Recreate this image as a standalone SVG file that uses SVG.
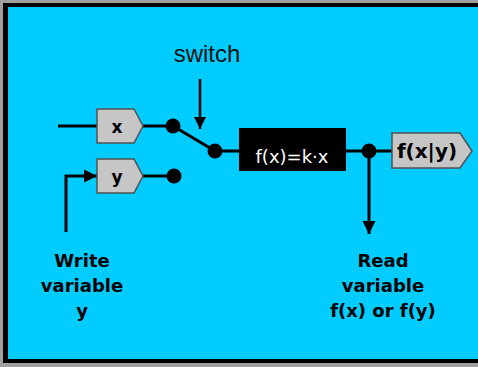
<svg xmlns="http://www.w3.org/2000/svg" width="478" height="367" viewBox="0 0 478 367">
<style>
.ln{stroke:#000;stroke-width:3;fill:none}
.tag{fill:#C6C6C6;stroke:#505050;stroke-width:1.5}
.dot{fill:#000}
.lbl{font-family:"DejaVu Sans",Verdana,sans-serif;font-weight:bold;font-size:18px;fill:#000;text-anchor:middle}
.tg{font-family:"DejaVu Sans",Verdana,sans-serif;font-weight:bold;fill:#000;text-anchor:middle}
</style>
<defs>
<marker id="ah" viewBox="0 0 10 10" refX="10" refY="5" markerWidth="4.4" markerHeight="4.4" markerUnits="strokeWidth" orient="auto">
<path d="M0,0 L10,5 L0,10 Z" fill="#000"/>
</marker>
<marker id="ah2" viewBox="0 0 10 10" refX="10" refY="5" markerWidth="5" markerHeight="5" markerUnits="strokeWidth" orient="auto">
<path d="M0,0 L10,5 L0,10 Z" fill="#000"/>
</marker>
</defs>
<rect x="0" y="0" width="478" height="367" fill="#A0A0A0"/>
<rect x="3" y="3" width="480" height="360" fill="#000"/>
<rect x="8" y="7" width="475" height="352" fill="#00CCFF"/>

<g id="connectors">
<line class="ln" x1="58" y1="126" x2="97" y2="126"/>
<line class="ln" x1="143" y1="126" x2="173" y2="126"/>
<line class="ln" x1="173" y1="126" x2="215" y2="151"/>
<line class="ln" x1="215" y1="151" x2="240" y2="151"/>
<line class="ln" x1="143" y1="176" x2="174" y2="176"/>
<polyline class="ln" points="66,232 66,176 97,176" marker-end="url(#ah)"/>
<line class="ln" x1="346" y1="151" x2="392" y2="151"/>
<line class="ln" x1="369" y1="151" x2="369" y2="234" marker-end="url(#ah)"/>
<line style="stroke:#000;stroke-width:2.5" x1="200" y1="79" x2="200" y2="129" marker-end="url(#ah2)"/>
</g>

<g id="switch-label">
<text x="207" y="62" style="font-family:'Liberation Sans',Arial,sans-serif;font-size:24px;fill:#111;text-anchor:middle">switch</text>
</g>

<g id="node-x">
<path class="tag" d="M97,109 H134 L143,126 L134,143 H97 Z"/>
<text class="tg" x="117" y="133" font-size="17">x</text>
</g>

<g id="node-y">
<path class="tag" d="M97,159 H134 L143,176 L134,193 H97 Z"/>
<text class="tg" x="117" y="183" font-size="17">y</text>
</g>

<g id="dots">
<circle class="dot" cx="173" cy="126" r="7.5"/>
<circle class="dot" cx="215" cy="151" r="7.5"/>
<circle class="dot" cx="174" cy="176" r="7.5"/>
<circle class="dot" cx="369" cy="151" r="7.5"/>
</g>

<g id="node-fx">
<rect x="239" y="128" width="107" height="43" fill="#000"/>
<text x="292" y="163" style="font-family:'DejaVu Sans',Verdana,sans-serif;font-size:18px;fill:#fff;text-anchor:middle">f(x)=k·x</text>
</g>

<g id="node-out">
<path class="tag" d="M392,133 H460 L472,151 L460,168 H392 Z"/>
<text class="tg" x="427" y="158" font-size="20">f(x|y)</text>
</g>

<g id="label-write">
<text class="lbl" x="82" y="267">Write</text>
<text class="lbl" x="82" y="292">variable</text>
<text class="lbl" x="82" y="317">y</text>
</g>

<g id="label-read">
<text class="lbl" x="383" y="267">Read</text>
<text class="lbl" x="383" y="292">variable</text>
<text class="lbl" x="383" y="317">f(x) or f(y)</text>
</g>
</svg>
